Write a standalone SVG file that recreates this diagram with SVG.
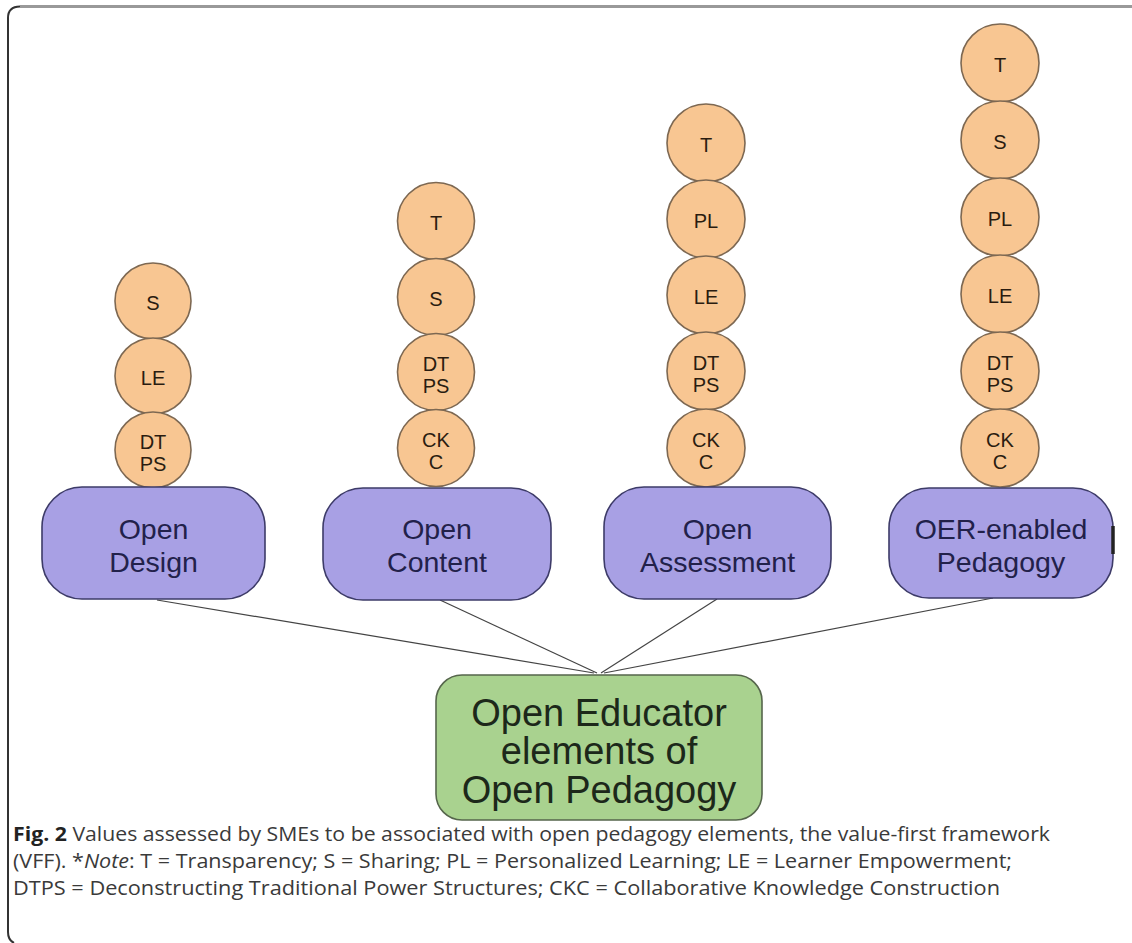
<svg xmlns="http://www.w3.org/2000/svg" width="1132" height="943" viewBox="0 0 1132 943">
<style>
.val circle{fill:#f8c692;stroke:#7d6852;stroke-width:1.6}
.val text{font-family:"Liberation Sans",Arial,sans-serif;font-size:20px;fill:#2a1c10;text-anchor:middle}
.elem rect{fill:#a8a0e4;stroke:#3d3b68;stroke-width:1.6}
.elem text{font-family:"Liberation Sans",Arial,sans-serif;font-size:28.5px;fill:#22214a;text-anchor:middle}
.root rect{fill:#a9d28f;stroke:#56664c;stroke-width:1.6}
.root text{font-family:"Liberation Sans",Arial,sans-serif;font-size:38px;fill:#1c281a;text-anchor:middle}
.conn line{stroke:#444;stroke-width:1.2}
.cap{font-family:"Open Sans","Noto Sans",sans-serif;font-size:20px;fill:#3a3a3a}
</style>
<rect width="1132" height="943" fill="#fff"/>
<g id="frame" fill="none">
<path d="M1132 6.5 H20" stroke="#999" stroke-width="3"/>
<path d="M20 6.5 Q8 6.5 8 18 V932 Q8 940 14 943" stroke="#333" stroke-width="2"/>
</g>
<g id="connectors" class="conn">
<line x1="157" y1="600" x2="594" y2="673"/>
<line x1="440" y1="600" x2="597" y2="673"/>
<line x1="717" y1="599" x2="601" y2="673"/>
<line x1="993" y1="598" x2="604" y2="673"/>
</g>
<g id="col1" class="val">
<g id="c1-S"><circle cx="153" cy="301" r="38"/><text x="153" y="310">S</text></g>
<g id="c1-LE"><circle cx="153" cy="376" r="38"/><text x="153" y="385">LE</text></g>
<g id="c1-DTPS"><circle cx="153" cy="450" r="38"/><text x="153" y="449">DT</text><text x="153" y="471">PS</text></g>
</g>
<g id="col2" class="val">
<g id="c2-T"><circle cx="436" cy="221" r="38.5"/><text x="436" y="230">T</text></g>
<g id="c2-S"><circle cx="436" cy="297" r="38.5"/><text x="436" y="306">S</text></g>
<g id="c2-DTPS"><circle cx="436" cy="372" r="38.5"/><text x="436" y="371">DT</text><text x="436" y="393">PS</text></g>
<g id="c2-CKC"><circle cx="436" cy="448" r="38.5"/><text x="436" y="447">CK</text><text x="436" y="469">C</text></g>
</g>
<g id="col3" class="val">
<g id="c3-T"><circle cx="706" cy="143" r="39"/><text x="706" y="152">T</text></g>
<g id="c3-PL"><circle cx="706" cy="219" r="39"/><text x="706" y="228">PL</text></g>
<g id="c3-LE"><circle cx="706" cy="295" r="39"/><text x="706" y="304">LE</text></g>
<g id="c3-DTPS"><circle cx="706" cy="371" r="39"/><text x="706" y="370">DT</text><text x="706" y="392">PS</text></g>
<g id="c3-CKC"><circle cx="706" cy="448" r="39"/><text x="706" y="447">CK</text><text x="706" y="469">C</text></g>
</g>
<g id="col4" class="val">
<g id="c4-T"><circle cx="1000" cy="63" r="39"/><text x="1000" y="72">T</text></g>
<g id="c4-S"><circle cx="1000" cy="140" r="39"/><text x="1000" y="149">S</text></g>
<g id="c4-PL"><circle cx="1000" cy="217" r="39"/><text x="1000" y="226">PL</text></g>
<g id="c4-LE"><circle cx="1000" cy="294" r="39"/><text x="1000" y="303">LE</text></g>
<g id="c4-DTPS"><circle cx="1000" cy="371" r="39"/><text x="1000" y="370">DT</text><text x="1000" y="392">PS</text></g>
<g id="c4-CKC"><circle cx="1000" cy="448" r="39"/><text x="1000" y="447">CK</text><text x="1000" y="469">C</text></g>
</g>
<g id="open-design" class="elem"><rect x="42" y="487" width="223" height="112" rx="40" ry="40"/><text x="153.5" y="539">Open</text><text x="153.5" y="572">Design</text></g>
<g id="open-content" class="elem"><rect x="323" y="488" width="228" height="112" rx="40" ry="40"/><text x="437" y="539">Open</text><text x="437" y="572">Content</text></g>
<g id="open-assessment" class="elem"><rect x="604" y="487" width="227" height="112" rx="40" ry="40"/><text x="717.5" y="539">Open</text><text x="717.5" y="572">Assessment</text></g>
<g id="oer-pedagogy" class="elem"><rect x="889" y="488" width="224" height="110" rx="40" ry="40"/><path d="M1113 526 V554" stroke="#222" stroke-width="3.5" fill="none"/><text x="1001" y="539">OER-enabled</text><text x="1001" y="572">Pedagogy</text></g>
<g id="open-educator" class="root"><rect x="436" y="675" width="326" height="145" rx="26" ry="26"/><text x="599" y="726">Open Educator</text><text x="599" y="764">elements of</text><text x="599" y="803">Open Pedagogy</text></g>
<g id="caption" class="cap">
<text x="13" y="841" textLength="1037" lengthAdjust="spacingAndGlyphs"><tspan font-weight="bold" fill="#222">Fig. 2</tspan>  Values assessed by SMEs to be associated with open pedagogy elements, the value-first framework</text>
<text x="13" y="868" textLength="999" lengthAdjust="spacingAndGlyphs">(VFF). *<tspan font-style="italic">Note</tspan>: T = Transparency; S = Sharing; PL = Personalized Learning; LE = Learner Empowerment;</text>
<text x="13" y="895" textLength="987" lengthAdjust="spacingAndGlyphs">DTPS = Deconstructing Traditional Power Structures; CKC = Collaborative Knowledge Construction</text>
</g>
</svg>
